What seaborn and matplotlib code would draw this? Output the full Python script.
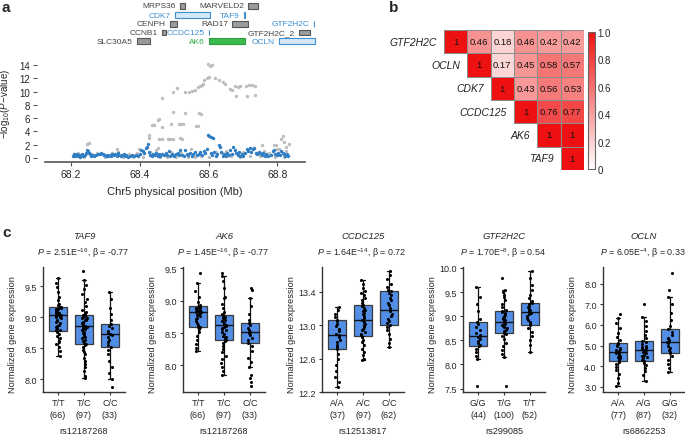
import numpy as np
import pandas as pd
import matplotlib
matplotlib.use("Agg")
import matplotlib.pyplot as plt
from matplotlib.colors import LinearSegmentedColormap
from matplotlib.patches import Rectangle
import seaborn as sns

# ------------------------------------------------------------------ data
# panel a: regional association (x in Mb, y = -log10 P)
gray_pos = [68.597, 68.605, 68.611, 68.587, 68.595, 68.602, 68.619, 68.629, 68.576, 68.580,
            68.585, 68.568, 68.641, 68.649, 68.661, 68.668, 68.677, 68.684, 68.692, 68.709,
            68.717, 68.727, 68.736, 68.680, 68.711, 68.735, 68.508, 68.496, 68.532, 68.542,
            68.551, 68.561, 68.466, 68.571, 68.578, 68.498, 68.532, 68.457, 68.452, 68.435,
            68.442, 68.490, 68.513, 68.521, 68.527, 68.464, 68.564, 68.570, 68.426, 68.427,
            68.457, 68.464, 68.482, 68.488, 68.496, 68.518, 68.524,
            68.247, 68.254, 68.334, 68.399, 68.453, 68.755, 68.789, 68.796, 68.798, 68.811,
            68.816, 68.820, 68.833, 68.826,
            68.210, 68.222, 68.238, 68.258, 68.276, 68.300, 68.320, 68.338, 68.352, 68.368,
            68.380, 68.392, 68.410, 68.430, 68.446, 68.458, 68.478, 68.492, 68.505, 68.520,
            68.540, 68.548, 68.560, 68.578, 68.600, 68.622, 68.640, 68.652, 68.665, 68.690,
            68.700, 68.720, 68.748, 68.760, 68.775, 68.792, 68.805, 68.818, 68.826]
gray_logp = [14.15, 13.9, 14.0, 11.75, 12.05, 12.15, 12.05, 11.75, 10.8, 11.0,
             11.15, 10.65, 11.4, 11.15, 10.4, 10.2, 10.8, 10.65, 10.8, 10.9,
             11.0, 11.0, 10.9, 9.4, 9.3, 9.5, 10.5, 9.9, 10.0, 10.0,
             10.05, 10.3, 9.0, 6.8, 6.6, 6.9, 6.7, 5.9, 5.7, 4.9,
             5.0, 5.15, 5.05, 5.05, 5.05, 4.65, 4.75, 4.75, 3.4, 3.0,
             2.9, 2.9, 2.9, 2.9, 2.9, 3.0, 2.9,
             2.1, 2.25, 1.4, 1.35, 1.55, 2.0, 2.0, 2.0, 1.3, 2.9,
             3.25, 2.4, 2.05, 1.7,
             0.6, 0.75, 0.2, 0.6, 0.7, 0.15, 0.8, 0.9, 0.15, 0.6,
             0.1, 0.7, 0.2, 0.9, 1.2, 0.1, 0.2, 0.9, 0.15, 0.8,
             0.2, 1.3, 0.1, 0.25, 0.2, 0.9, 0.7, 1.1, 0.3, 0.2,
             0.9, 0.3, 0.25, 1.1, 0.8, 0.15, 1.4, 0.2, 1.1]
blue_pos = [68.205, 68.208, 68.211, 68.214, 68.217, 68.220, 68.223, 68.226, 68.229, 68.232,
            68.236, 68.240, 68.244, 68.247, 68.250, 68.253, 68.256, 68.260, 68.263, 68.268,
            68.274, 68.280, 68.285, 68.289, 68.293, 68.297, 68.301, 68.305, 68.309, 68.313,
            68.317, 68.321, 68.325, 68.329, 68.333, 68.337, 68.341, 68.345, 68.349, 68.353,
            68.357, 68.361, 68.365, 68.372, 68.378, 68.384, 68.390, 68.395, 68.400, 68.404,
            68.409, 68.413, 68.417, 68.421, 68.424, 68.428, 68.431, 68.435, 68.440, 68.444,
            68.448, 68.452, 68.456, 68.460, 68.465, 68.470, 68.475, 68.480, 68.484, 68.488,
            68.493, 68.497, 68.501, 68.506, 68.511, 68.515, 68.518, 68.523, 68.528, 68.532,
            68.536, 68.541, 68.546, 68.551, 68.556, 68.561, 68.566, 68.571, 68.576, 68.581,
            68.586, 68.590, 68.594, 68.597, 68.602, 68.608, 68.613, 68.606, 68.611, 68.617,
            68.621, 68.625, 68.629, 68.633, 68.637, 68.641, 68.645, 68.650, 68.654, 68.658,
            68.663, 68.667, 68.672, 68.676, 68.680, 68.684, 68.688, 68.692, 68.697, 68.701,
            68.706, 68.711, 68.715, 68.719, 68.723, 68.728, 68.733, 68.737, 68.741, 68.745,
            68.750, 68.754, 68.758, 68.763, 68.768, 68.773, 68.780, 68.786, 68.790, 68.794,
            68.798, 68.803, 68.807, 68.811, 68.815, 68.819, 68.823, 68.827, 68.830]
blue_logp = [0.35, 0.55, 0.25, 0.45, 0.6, 0.3, 0.5, 0.2, 0.4, 0.65,
             0.35, 0.5, 0.75, 1.15, 1.0, 0.8, 0.55, 0.3, 0.45, 0.25,
             0.4, 0.55, 0.6, 0.7, 0.55, 0.45, 0.35, 0.5, 0.3, 0.4,
             0.25, 0.55, 0.45, 0.6, 0.35, 0.7, 0.5, 0.3, 0.45, 0.6,
             0.25, 0.4, 0.2, 0.35, 0.5, 0.3, 0.45, 0.25, 0.6, 1.15,
             1.0, 0.7, 1.5, 1.7, 2.1, 0.9, 0.5, 0.3, 0.65, 0.45,
             0.8, 0.35, 0.55, 0.25, 0.6, 0.4, 0.7, 0.5, 1.0, 0.35,
             0.6, 0.45, 0.3, 0.55, 0.7, 0.4, 1.15, 0.5, 0.3, 1.15,
             0.6, 0.45, 0.75, 0.35, 0.55, 0.85, 0.4, 0.65, 0.9, 0.5,
             1.1, 0.7, 1.3, 3.5, 3.35, 3.2, 3.05, 0.8, 0.4, 0.95,
             0.3, 0.6, 1.9, 1.6, 0.85, 0.35, 0.55, 0.25, 0.7, 0.45,
             1.15, 0.6, 1.65, 1.15, 0.8, 0.5, 0.95, 0.35, 0.6, 0.25,
             0.7, 1.4, 1.0, 1.5, 0.9, 1.4, 1.5, 0.8, 0.6, 0.9,
             0.7, 0.5, 0.75, 0.35, 0.55, 0.3, 0.45, 1.0, 1.2, 0.6,
             0.4, 0.7, 0.5, 1.0, 0.75, 0.55, 0.35, 0.6, 0.3]

# gene track (Mb)
gene_names = ["MRPS36", "MARVELD2", "CDK7", "TAF9", "CENPH", "RAD17", "GTF2H2C",
              "CCNB1", "CCDC125", "GTF2H2C_2", "SLC30A5", "AK6", "OCLN"]
gene_start = [68.518, 68.715, 68.503, 68.7035, 68.488, 68.669, 68.9055,
              68.466, 68.6015, 68.862, 68.392, 68.602, 68.805]
gene_end = [68.531, 68.743, 68.604, 68.7045, 68.509, 68.715, 68.9065,
            68.476, 68.6025, 68.894, 68.430, 68.706, 68.909]
gene_row = [0, 0, 1, 1, 2, 2, 2, 3, 3, 3, 4, 4, 4]
gene_kind = ["other", "other", "tested", "tested", "other", "other", "tested",
             "other", "tested", "other", "other", "lead", "tested"]

# panel b: LD (r2) upper triangle
ld_genes = ["GTF2H2C", "OCLN", "CDK7", "CCDC125", "AK6", "TAF9"]
ld_gtf2h2c = [1, 0.46, 0.18, 0.46, 0.42, 0.42]
ld_ocln = [np.nan, 1, 0.17, 0.45, 0.58, 0.57]
ld_cdk7 = [np.nan, np.nan, 1, 0.43, 0.56, 0.53]
ld_ccdc125 = [np.nan, np.nan, np.nan, 1, 0.76, 0.77]
ld_ak6 = [np.nan, np.nan, np.nan, np.nan, 1, 1]
ld_taf9 = [np.nan, np.nan, np.nan, np.nan, np.nan, 1]

# panel c: eQTL
eqtl_genes = ["TAF9", "AK6", "CCDC125", "GTF2H2C", "OCLN"]
eqtl_snps = ["rs12187268", "rs12187268", "rs12513817", "rs299085", "rs6862253"]
eqtl_p_mant = ["2.51", "1.45", "1.64", "1.70", "6.05"]
eqtl_p_exp = ["-16", "-16", "-14", "-8", "-4"]
eqtl_beta = ["-0.77", "-0.77", "0.72", "0.54", "0.33"]

taf9_geno = ["T/T", "T/C", "C/C"]
taf9_n = [66, 97, 33]
taf9_q1 = [8.78, 8.57, 8.52]
taf9_med = [9.03, 8.86, 8.73]
taf9_q3 = [9.16, 9.03, 8.89]
taf9_lo = [8.38, 8.02, 8.01]
taf9_hi = [9.63, 9.60, 9.40]
taf9_tt = [9.63, 9.55, 9.48, 9.40, 9.33, 9.27, 9.22, 9.19, 9.17, 9.16, 9.15, 9.14, 9.13, 9.12,
           9.11, 9.10, 9.09, 9.08, 9.07, 9.06, 9.05, 9.04, 9.03, 9.02, 9.01, 9.00, 8.98, 8.96,
           8.94, 8.92, 8.90, 8.88, 8.86, 8.84, 8.82, 8.80, 8.79, 8.78, 8.76, 8.73, 8.70, 8.66,
           8.62, 8.60, 8.57, 8.52, 8.45, 8.38]
taf9_tc = [9.74, 9.60, 9.52, 9.45, 9.38, 9.30, 9.24, 9.18, 9.12, 9.08, 9.05, 9.03, 9.02, 9.01,
           9.00, 8.99, 8.98, 8.96, 8.95, 8.93, 8.91, 8.90, 8.88, 8.87, 8.86, 8.85, 8.84, 8.83,
           8.81, 8.79, 8.77, 8.75, 8.73, 8.70, 8.68, 8.66, 8.63, 8.61, 8.59, 8.57, 8.55, 8.52,
           8.48, 8.44, 8.40, 8.35, 8.30, 8.25, 8.20, 8.13, 8.05, 8.02]
taf9_cc = [9.40, 9.30, 9.15, 9.05, 8.95, 8.89, 8.86, 8.82, 8.78, 8.75, 8.73, 8.71, 8.68, 8.64,
           8.60, 8.56, 8.52, 8.48, 8.40, 8.30, 8.20, 8.10, 8.01, 7.88]

ak6_geno = ["T/T", "T/C", "C/C"]
ak6_n = [66, 97, 33]
ak6_q1 = [8.59, 8.40, 8.35]
ak6_med = [8.82, 8.62, 8.52]
ak6_q3 = [8.92, 8.78, 8.66]
ak6_lo = [8.22, 7.85, 7.98]
ak6_hi = [9.28, 9.38, 9.04]
ak6_tt = [9.43, 9.28, 9.15, 9.05, 8.98, 8.94, 8.92, 8.91, 8.90, 8.89, 8.88, 8.87, 8.86, 8.85,
          8.84, 8.83, 8.82, 8.81, 8.80, 8.78, 8.76, 8.74, 8.71, 8.68, 8.65, 8.62, 8.60, 8.59,
          8.56, 8.52, 8.46, 8.40, 8.33, 8.27, 8.22]
ak6_tc = [9.43, 9.38, 9.30, 9.20, 9.06, 9.04, 8.95, 8.88, 8.82, 8.79, 8.77, 8.76, 8.75, 8.74,
          8.72, 8.70, 8.68, 8.66, 8.64, 8.63, 8.62, 8.61, 8.60, 8.58, 8.56, 8.54, 8.52, 8.49,
          8.46, 8.44, 8.42, 8.40, 8.38, 8.34, 8.30, 8.25, 8.20, 8.15, 8.10, 8.04, 7.98, 7.92,
          7.85]
ak6_cc = [9.19, 9.16, 9.04, 8.92, 8.80, 8.70, 8.66, 8.62, 8.58, 8.55, 8.52, 8.50, 8.47, 8.43,
          8.39, 8.35, 8.30, 8.22, 8.12, 8.05, 7.98, 7.86, 7.80, 7.74, 7.68]

ccdc_geno = ["A/A", "A/C", "C/C"]
ccdc_n = [37, 97, 62]
ccdc_q1 = [12.71, 12.87, 13.01]
ccdc_med = [12.88, 13.07, 13.19]
ccdc_q3 = [13.06, 13.25, 13.41]
ccdc_lo = [12.26, 12.58, 12.74]
ccdc_hi = [13.22, 13.54, 13.65]
ccdc_aa = [13.22, 13.18, 13.14, 13.10, 13.07, 13.05, 13.02, 12.99, 12.96, 12.93, 12.90, 12.88,
           12.86, 12.83, 12.80, 12.77, 12.74, 12.71, 12.66, 12.60, 12.52, 12.45, 12.38, 12.32,
           12.26]
ccdc_ac = [13.54, 13.50, 13.45, 13.41, 13.39, 13.36, 13.33, 13.30, 13.27, 13.25, 13.23, 13.21,
           13.19, 13.17, 13.15, 13.13, 13.11, 13.09, 13.07, 13.06, 13.04, 13.02, 13.00, 12.98,
           12.96, 12.94, 12.92, 12.90, 12.88, 12.86, 12.83, 12.80, 12.76, 12.72, 12.68, 12.64,
           12.60, 12.58]
ccdc_cc = [13.65, 13.60, 13.55, 13.50, 13.46, 13.43, 13.41, 13.39, 13.36, 13.33, 13.30, 13.27,
           13.24, 13.21, 13.19, 13.17, 13.14, 13.11, 13.08, 13.05, 13.03, 13.01, 12.98, 12.94,
           12.89, 12.84, 12.79, 12.74]

gtf_geno = ["G/G", "T/G", "T/T"]
gtf_n = [44, 100, 52]
gtf_q1 = [8.38, 8.66, 8.81]
gtf_med = [8.60, 8.88, 9.09]
gtf_q3 = [8.88, 9.10, 9.28]
gtf_lo = [8.11, 8.16, 8.26]
gtf_hi = [9.60, 9.55, 9.93]
gtf_gg = [9.60, 9.40, 9.25, 9.10, 8.95, 8.88, 8.84, 8.78, 8.72, 8.66, 8.62, 8.60, 8.57, 8.53,
          8.48, 8.44, 8.40, 8.38, 8.33, 8.25, 8.18, 8.11, 7.55]
gtf_tg = [9.79, 9.55, 9.50, 9.45, 9.40, 9.33, 9.26, 9.19, 9.13, 9.10, 9.08, 9.06, 9.04, 9.02,
          9.00, 8.98, 8.96, 8.94, 8.92, 8.90, 8.88, 8.86, 8.84, 8.82, 8.80, 8.78, 8.75, 8.72,
          8.70, 8.68, 8.66, 8.63, 8.58, 8.52, 8.45, 8.38, 8.30, 8.22, 8.16, 7.55]
gtf_tt = [9.93, 9.80, 9.65, 9.55, 9.45, 9.38, 9.32, 9.28, 9.25, 9.22, 9.19, 9.16, 9.13, 9.10,
          9.09, 9.07, 9.04, 9.00, 8.96, 8.92, 8.88, 8.84, 8.81, 8.75, 8.68, 8.60, 8.50, 8.40,
          8.26]

ocln_geno = ["A/A", "A/G", "G/G"]
ocln_n = [77, 87, 32]
ocln_q1 = [4.27, 4.24, 4.64]
ocln_med = [4.68, 4.76, 5.18]
ocln_q3 = [5.14, 5.21, 5.80]
ocln_lo = [3.01, 3.29, 3.73]
ocln_hi = [6.33, 6.41, 7.36]
ocln_aa = [6.52, 6.33, 6.10, 5.85, 5.60, 5.40, 5.25, 5.14, 5.08, 5.02, 4.96, 4.90, 4.85, 4.80,
           4.75, 4.70, 4.68, 4.65, 4.60, 4.55, 4.50, 4.45, 4.40, 4.35, 4.30, 4.27, 4.20, 4.10,
           3.95, 3.80, 3.60, 3.40, 3.20, 3.01]
ocln_ag = [7.01, 6.41, 6.20, 5.95, 5.70, 5.50, 5.35, 5.21, 5.15, 5.08, 5.00, 4.95, 4.90, 4.85,
           4.80, 4.76, 4.72, 4.68, 4.62, 4.56, 4.50, 4.44, 4.38, 4.30, 4.24, 4.15, 4.05, 3.90,
           3.75, 3.55, 3.29]
ocln_gg = [8.54, 7.72, 7.36, 7.00, 6.60, 6.25, 5.95, 5.80, 5.65, 5.50, 5.35, 5.25, 5.18, 5.10,
           5.00, 4.90, 4.80, 4.70, 4.64, 4.50, 4.30, 4.10, 3.90, 3.73]

# ------------------------------------------------------------------ style
sns.set_theme(style="ticks")
plt.rcParams["font.family"] = ["Liberation Sans", "DejaVu Sans"]
plt.rcParams["mathtext.fontset"] = "custom"
plt.rcParams["mathtext.rm"] = "Liberation Sans"
plt.rcParams["mathtext.it"] = "Liberation Sans:italic"
plt.rcParams["mathtext.default"] = "regular"

W, H = 685, 435
fig = plt.figure(figsize=(W / 100, H / 100), dpi=100)


def px_axes(l, t, r, b):
    return fig.add_axes([l / W, 1 - b / H, (r - l) / W, (b - t) / H])


XLIM = (68.125, 68.88)

# ------------------------------------------------------------------ panel a
ax = px_axes(45, 60, 305, 163)
sns.scatterplot(x=gray_pos, y=gray_logp, color="#bdbdbd", s=6, linewidth=0, ax=ax, zorder=2)
sns.scatterplot(x=blue_pos, y=blue_logp, color="#2f7dc3", s=6, linewidth=0, ax=ax, zorder=3)
ax.set_xlim(*XLIM)
ax.set_ylim(-0.6, 14.9)
ax.set_xticks([68.2, 68.4, 68.6, 68.8])
ax.set_xticklabels(["68.2", "68.4", "68.6", "68.8"])
ax.set_yticks(range(0, 15, 2))
for s in ["top", "right", "left"]:
    ax.spines[s].set_visible(False)
ax.spines["left"].set_position(("outward", 6))
ax.spines["bottom"].set_color("#555555")
ax.spines["bottom"].set_linewidth(1.2)
ax.tick_params(axis="both", labelsize=7.5, length=3, width=0.8, color="#555555", pad=2)
ax.tick_params(axis="y", labelsize=7.0, pad=1.5)
ax.set_xlabel("Chr5 physical position (Mb)", fontsize=8, labelpad=5)
ax.set_ylabel(r"$-$log$_{10}$($\it{P}$$-$value)", fontsize=7.0)
ax.yaxis.set_label_coords(-0.125, 0.57)

# gene track
axg = px_axes(45, 0, 305, 50)
axg.set_xlim(*XLIM)
axg.set_ylim(50, 0)
axg.axis("off")
row_y = [7, 16, 25, 33.5, 42]
face = {"other": "#9b9b9b", "tested": "#d6e7f7", "lead": "#3dba4e"}
edge = {"other": "#555555", "tested": "#3d8fd1", "lead": "#2e9e3e"}
tcol = {"other": "#444444", "tested": "#3d8fd1", "lead": "#2eaa44"}
for nm, st, en, rw, kd in zip(gene_names, gene_start, gene_end, gene_row, gene_kind):
    yc = row_y[rw]
    axg.add_patch(Rectangle((st, yc - 2.6), en - st, 5.2, facecolor=face[kd],
                            edgecolor=edge[kd], linewidth=0.8, clip_on=False))
    axg.annotate(nm, xy=(st, yc), xytext=(-3, 0), textcoords="offset points",
                 ha="right", va="center", fontsize=6.0, color=tcol[kd], annotation_clip=False)

# ------------------------------------------------------------------ panel b
ld = pd.DataFrame([ld_gtf2h2c, ld_ocln, ld_cdk7, ld_ccdc125, ld_ak6, ld_taf9],
                  index=ld_genes, columns=ld_genes)
annot = ld.map(lambda v: "" if np.isnan(v) else ("1" if v == 1 else f"{v:.2f}"))
cmap = LinearSegmentedColormap.from_list("wr", ["#ffffff", "#ee1111"])
axh = px_axes(444, 31, 584, 171)
cax = px_axes(588, 33, 595, 170)
sns.heatmap(ld, mask=ld.isna(), cmap=cmap, vmin=0, vmax=1, annot=annot, fmt="",
            annot_kws={"size": 6.8, "color": "#111111"}, linewidths=0.6,
            linecolor="#8c8c8c", xticklabels=False, yticklabels=False,
            cbar_ax=cax, cbar_kws={"ticks": [0, 0.2, 0.4, 0.6, 0.8, 1.0]}, ax=axh)
mesh = axh.collections[0]
mesh.set_edgecolor([(0, 0, 0, 0) if np.isnan(v) else "#8c8c8c" for v in ld.values.ravel()])
for i, g in enumerate(ld_genes):
    axh.text(i - 0.3, i + 0.5, g, ha="right", va="center", fontsize=7.5, style="italic",
             color="#222222")
cb = mesh.colorbar
cb.ax.set_yticklabels(["0", "0.2", "0.4", "0.6", "0.8", "1.0"])
cb.ax.tick_params(length=0, labelsize=7, pad=2)
cb.outline.set_edgecolor("#666666")
cb.outline.set_linewidth(0.8)

# ------------------------------------------------------------------ panel c
panels = [
    dict(geno=taf9_geno, n=taf9_n, vals=[taf9_tt, taf9_tc, taf9_cc], q1=taf9_q1, med=taf9_med,
         q3=taf9_q3, lo=taf9_lo, hi=taf9_hi, ylim=(7.795, 9.81), ticks=[8.0, 8.5, 9.0, 9.5], left=43),
    dict(geno=ak6_geno, n=ak6_n, vals=[ak6_tt, ak6_tc, ak6_cc], q1=ak6_q1, med=ak6_med,
         q3=ak6_q3, lo=ak6_lo, hi=ak6_hi, ylim=(7.59, 9.52), ticks=[8.0, 8.5, 9.0, 9.5], left=183),
    dict(geno=ccdc_geno, n=ccdc_n, vals=[ccdc_aa, ccdc_ac, ccdc_cc], q1=ccdc_q1, med=ccdc_med,
         q3=ccdc_q3, lo=ccdc_lo, hi=ccdc_hi, ylim=(12.2, 13.70), ticks=[12.2, 12.6, 13.0, 13.4], left=322),
    dict(geno=gtf_geno, n=gtf_n, vals=[gtf_gg, gtf_tg, gtf_tt], q1=gtf_q1, med=gtf_med,
         q3=gtf_q3, lo=gtf_lo, hi=gtf_hi, ylim=(7.43, 10.02), ticks=[7.5, 8.0, 8.5, 9.0, 9.5, 10.0], left=463),
    dict(geno=ocln_geno, n=ocln_n, vals=[ocln_aa, ocln_ag, ocln_gg], q1=ocln_q1, med=ocln_med,
         q3=ocln_q3, lo=ocln_lo, hi=ocln_hi, ylim=(2.74, 8.82), ticks=[3, 4, 5, 6, 7, 8], left=603),
]

for k, p in enumerate(panels):
    axc = px_axes(p["left"], 268, p["left"] + 82, 393)
    df = pd.DataFrame({
        "geno": np.concatenate([[g] * len(v) for g, v in zip(p["geno"], p["vals"])]),
        "expr": np.concatenate(p["vals"]),
    })
    sns.stripplot(data=df, x="geno", y="expr", order=p["geno"], color="black", size=2.2,
                  jitter=0.1, linewidth=0, ax=axc, zorder=3)
    stats = [dict(med=m, q1=a, q3=b, whislo=lo, whishi=hi, fliers=[])
             for m, a, b, lo, hi in zip(p["med"], p["q1"], p["q3"], p["lo"], p["hi"])]
    axc.bxp(stats, positions=[0, 1, 2], widths=0.67, patch_artist=True, showfliers=False,
            manage_ticks=False, capwidths=0.16, zorder=1,
            boxprops=dict(facecolor="#528ee6", edgecolor="#3a3a3a", linewidth=0.9),
            whiskerprops=dict(color="#111111", linewidth=0.9),
            capprops=dict(color="#111111", linewidth=0.9),
            medianprops=dict(color="#111111", linewidth=1.0))
    axc.set_xlim(-0.58, 2.58)
    axc.set_ylim(*p["ylim"])
    axc.set_yticks(p["ticks"])
    axc.set_yticklabels([f"{t:.1f}" for t in p["ticks"]])
    axc.set_xticks([0, 1, 2])
    axc.set_xticklabels([f"{g}\n({n})" for g, n in zip(p["geno"], p["n"])], linespacing=1.35)
    for s in ["top", "right"]:
        axc.spines[s].set_visible(False)
    for s in ["left", "bottom"]:
        axc.spines[s].set_color("#333333")
        axc.spines[s].set_linewidth(1.0)
    axc.tick_params(axis="both", labelsize=6.5, length=2.5, width=0.8, color="#333333", pad=2)
    axc.set_xlabel(eqtl_snps[k], fontsize=6.6, labelpad=5)
    axc.set_ylabel("Normalized gene expression", fontsize=6.6)
    axc.yaxis.set_label_coords(-0.32, 0.47)
    axc.annotate(eqtl_genes[k], xy=(0.5, 1), xycoords="axes fraction", xytext=(0, 23),
                 textcoords="offset points", ha="center", va="center", fontsize=6.8,
                 style="italic", annotation_clip=False)
    ptxt = (r"$\it{P}$ = " + eqtl_p_mant[k] + r"E$^{" + eqtl_p_exp[k].replace("-", r"\minus ")
            + r"}$, β = " + eqtl_beta[k])
    axc.annotate(ptxt, xy=(0.5, 1), xycoords="axes fraction", xytext=(-1, 11),
                 textcoords="offset points", ha="center", va="center", fontsize=6.4,
                 annotation_clip=False)

# panel letters
fig.text(2 / W, 1 - 8 / H, "a", fontsize=11, fontweight="bold", va="center", ha="left")
fig.text(389 / W, 1 - 8 / H, "b", fontsize=11, fontweight="bold", va="center", ha="left")
fig.text(2 / W, 1 - 233 / H, "c", fontsize=11, fontweight="bold", va="center", ha="left")

fig.savefig("out.png", dpi=100)
